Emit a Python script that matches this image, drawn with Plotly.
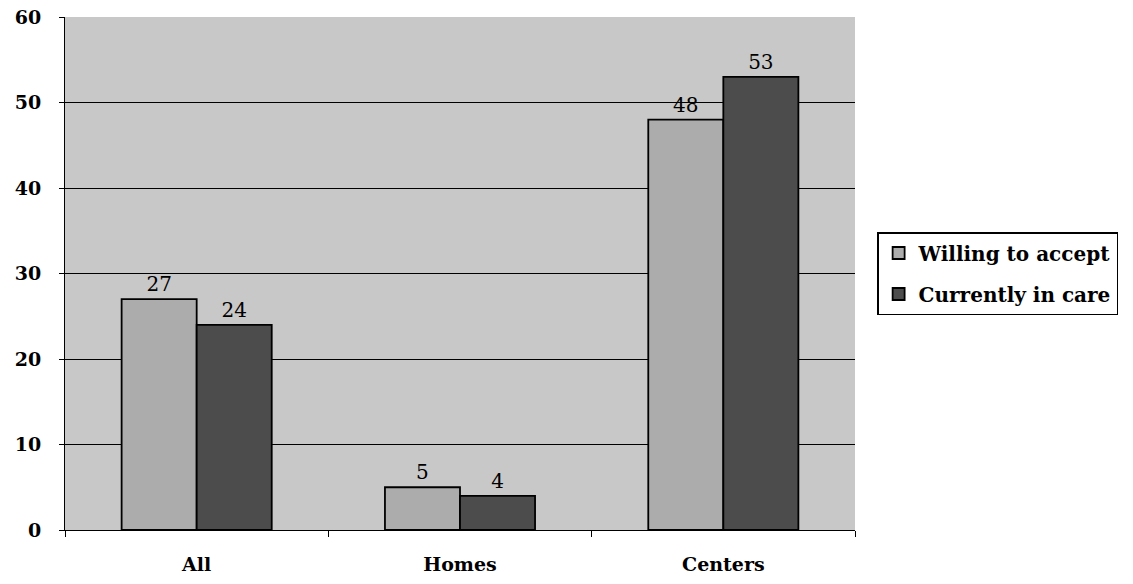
import plotly.graph_objects as go

categories = ["All", "Homes", "Centers"]
willing = [27, 5, 48]
current = [24, 4, 53]
y_ticks = [0, 10, 20, 30, 40, 50, 60]

font_family = "DejaVu Serif, serif"

fig = go.Figure()
fig.add_trace(go.Bar(
    name="Willing to accept", x=categories, y=willing, legendgroup="a",
    marker=dict(color="#acacac", line=dict(color="black", width=1.8)),
    text=[str(v) for v in willing], textposition="outside",
    textfont=dict(family=font_family, size=20, color="black"),
    cliponaxis=False,
))
fig.add_trace(go.Bar(
    name="Currently in care", x=categories, y=current, legendgroup="b",
    marker=dict(color="#4c4c4c", line=dict(color="black", width=1.8)),
    text=[str(v) for v in current], textposition="outside",
    textfont=dict(family=font_family, size=20, color="black"),
    cliponaxis=False,
))

fig.update_layout(
    width=1133, height=584,
    margin=dict(l=65, r=278, t=17, b=54, autoexpand=False),
    paper_bgcolor="white",
    plot_bgcolor="#c8c8c8",
    barmode="group",
    bargap=0.43,
    bargroupgap=0,
    font=dict(family=font_family, color="black"),
    showlegend=True,
    legend=dict(
        x=1.028, xanchor="left", y=0.5, yanchor="middle",
        bordercolor="black", borderwidth=1.5, bgcolor="white",
        font=dict(family=font_family, size=20, color="black", weight="bold"),
        traceorder="grouped", tracegroupgap=12,
    ),
    xaxis=dict(
        automargin=False,
        showgrid=False, showline=True, linecolor="black", linewidth=1,
        ticks="outside", ticklen=6, tickcolor="black",
        tickson="boundaries",
        tickfont=dict(family=font_family, size=19, color="black", weight="bold"),
        ticklabelstandoff=17,
    ),
    yaxis=dict(
        automargin=False,
        range=[0, 60], tickvals=y_ticks,
        showgrid=True, gridcolor="black", gridwidth=1,
        showline=True, linecolor="black", linewidth=1,
        ticks="outside", ticklen=5, tickcolor="black",
        tickfont=dict(family=font_family, size=19, color="black", weight="bold"),
        ticklabelstandoff=14, zeroline=False,
    ),
)

fig.write_html("out.html", config={"displayModeBar": False},
               post_script="document.body.style.margin='0';")
